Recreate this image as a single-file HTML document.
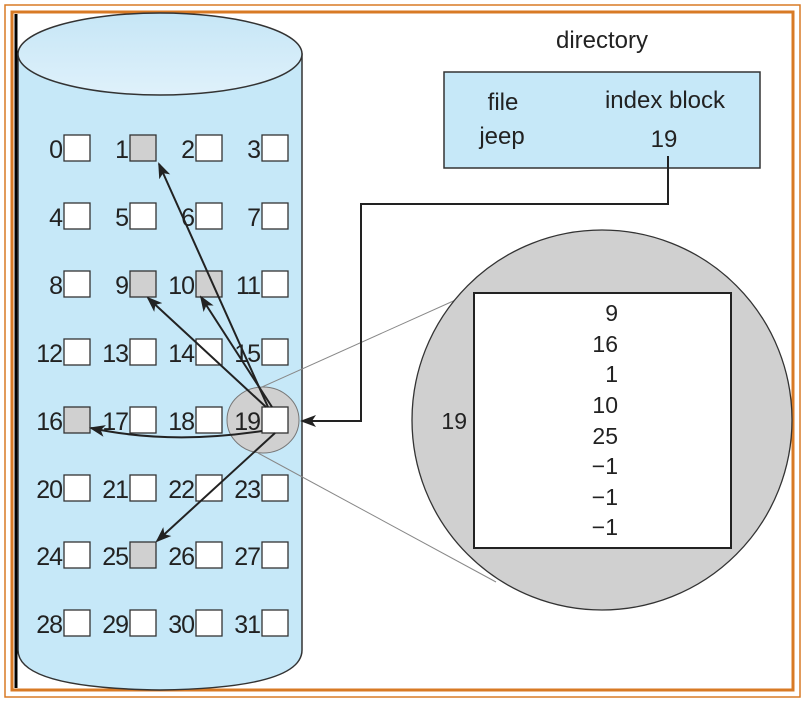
<!DOCTYPE html>
<html><head><meta charset="utf-8"><style>
body{margin:0;background:#fff}
svg{display:block;font-family:"Liberation Sans",sans-serif}
</style></head><body>
<svg width="805" height="701" viewBox="0 0 805 701">
<defs>
<marker id="ah" markerWidth="16" markerHeight="14" refX="14" refY="6" orient="auto" markerUnits="userSpaceOnUse" viewBox="0 0 16 12">
<path d="M0,0 L16,6 L0,12 L4,6 z" fill="#222"/>
</marker>
<linearGradient id="tg" x1="0" y1="0" x2="0" y2="1"><stop offset="0" stop-color="#c6e6f6"/><stop offset="1" stop-color="#dff1fb"/></linearGradient>
</defs>
<rect x="5" y="5" width="795" height="692" fill="none" stroke="#d87a25" stroke-width="1.5"/>
<rect x="12" y="12" width="781" height="678" fill="none" stroke="#d87a25" stroke-width="3"/>
<line x1="16" y1="14" x2="16" y2="688" stroke="#000" stroke-width="3"/>
<path d="M18,54 L18,650 Q18,688 160,690 Q302,688 302,650 L302,54 Z" fill="#c6e8f8" stroke="#333" stroke-width="1.5"/>
<ellipse cx="160" cy="54" rx="142" ry="41" fill="url(#tg)" stroke="#333" stroke-width="1.5"/>
<g stroke="#333" stroke-width="1.3">
<g fill="#fff">
<rect x="64" y="135" width="26" height="26"/><rect x="130" y="135" width="26" height="26" fill="#d0d0d0"/><rect x="196" y="135" width="26" height="26"/><rect x="262" y="135" width="26" height="26"/>
<rect x="64" y="203" width="26" height="26"/><rect x="130" y="203" width="26" height="26"/><rect x="196" y="203" width="26" height="26"/><rect x="262" y="203" width="26" height="26"/>
<rect x="64" y="271" width="26" height="26"/><rect x="130" y="271" width="26" height="26" fill="#d0d0d0"/><rect x="196" y="271" width="26" height="26" fill="#d0d0d0"/><rect x="262" y="271" width="26" height="26"/>
<rect x="64" y="339" width="26" height="26"/><rect x="130" y="339" width="26" height="26"/><rect x="196" y="339" width="26" height="26"/><rect x="262" y="339" width="26" height="26"/>
</g>
<ellipse cx="263" cy="420" rx="36" ry="33" fill="#d0d0d0" stroke="#777" stroke-width="1"/>
<g fill="#fff">
<rect x="64" y="407" width="26" height="26" fill="#d0d0d0"/><rect x="130" y="407" width="26" height="26"/><rect x="196" y="407" width="26" height="26"/><rect x="262" y="407" width="26" height="26"/>
<rect x="64" y="475" width="26" height="26"/><rect x="130" y="475" width="26" height="26"/><rect x="196" y="475" width="26" height="26"/><rect x="262" y="475" width="26" height="26"/>
<rect x="64" y="542" width="26" height="26"/><rect x="130" y="542" width="26" height="26" fill="#d0d0d0"/><rect x="196" y="542" width="26" height="26"/><rect x="262" y="542" width="26" height="26"/>
<rect x="64" y="610" width="26" height="26"/><rect x="130" y="610" width="26" height="26"/><rect x="196" y="610" width="26" height="26"/><rect x="262" y="610" width="26" height="26"/>
</g>
</g>
<g font-size="25" fill="#222" text-anchor="end" letter-spacing="-1">
<text x="62" y="158">0</text><text x="128" y="158">1</text><text x="194" y="158">2</text><text x="260" y="158">3</text>
<text x="62" y="226">4</text><text x="128" y="226">5</text><text x="194" y="226">6</text><text x="260" y="226">7</text>
<text x="62" y="294">8</text><text x="128" y="294">9</text><text x="194" y="294">10</text><text x="260" y="294">11</text>
<text x="62" y="362">12</text><text x="128" y="362">13</text><text x="194" y="362">14</text><text x="260" y="362">15</text>
<text x="62" y="430">16</text><text x="128" y="430">17</text><text x="194" y="430">18</text><text x="260" y="430">19</text>
<text x="62" y="498">20</text><text x="128" y="498">21</text><text x="194" y="498">22</text><text x="260" y="498">23</text>
<text x="62" y="565">24</text><text x="128" y="565">25</text><text x="194" y="565">26</text><text x="260" y="565">27</text>
<text x="62" y="633">28</text><text x="128" y="633">29</text><text x="194" y="633">30</text><text x="260" y="633">31</text>
</g>
<line x1="262" y1="387" x2="460" y2="298" stroke="#888" stroke-width="1"/>
<line x1="258" y1="453" x2="496" y2="582" stroke="#888" stroke-width="1"/>
<circle cx="602" cy="420" r="190" fill="#d0d0d0" stroke="#333" stroke-width="1.3"/>
<rect x="474" y="293" width="257" height="255" fill="#fff" stroke="#222" stroke-width="2"/>
<g font-size="23" fill="#222" text-anchor="end">
<text x="618" y="321">9</text><text x="618" y="352">16</text><text x="618" y="382">1</text><text x="618" y="413">10</text>
<text x="618" y="444">25</text><text x="618" y="474">−1</text><text x="618" y="505">−1</text><text x="618" y="535">−1</text>
<text x="467" y="429">19</text>
</g>
<text x="602" y="48" font-size="24" fill="#222" text-anchor="middle">directory</text>
<rect x="444" y="72" width="316" height="96" fill="#c6e8f8" stroke="#333" stroke-width="1.5"/>
<g font-size="24" fill="#222" text-anchor="middle">
<text x="503" y="110">file</text><text x="665" y="108">index block</text>
<text x="502" y="144">jeep</text><text x="664" y="147">19</text>
</g>
<polyline points="668,156 668,204 361,204 361,421 302,421" fill="none" stroke="#222" stroke-width="2" marker-end="url(#ah)"/>
<g stroke="#222" stroke-width="2" fill="none" marker-end="url(#ah)">
<line x1="268" y1="407" x2="159" y2="164"/>
<line x1="272" y1="407" x2="201" y2="297"/>
<line x1="266" y1="407" x2="148" y2="298"/>
<path d="M262,431 Q170,445 91,428"/>
<line x1="275" y1="433" x2="157" y2="541"/>
</g>
</svg>
</body></html>
